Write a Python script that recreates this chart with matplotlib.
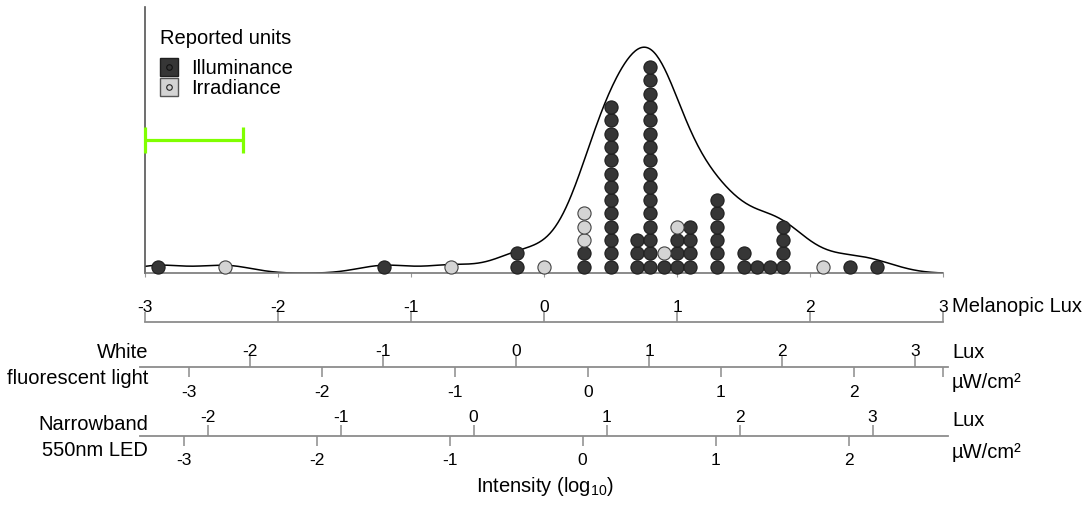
import numpy as np
import matplotlib
matplotlib.use("Agg")
import matplotlib.pyplot as plt
from matplotlib.lines import Line2D

plt.rcParams['font.family'] = ['Liberation Sans', 'DejaVu Sans']
plt.rcParams['mathtext.fontset'] = 'custom'
plt.rcParams['mathtext.rm'] = 'Liberation Sans'
plt.rcParams['axes.unicode_minus'] = False

### Dot plot data: log10 melanopic lux, stacked in 0.1 bins
bin_centres = [-2.9, -2.4, -1.2, -0.7, -0.2, 0.0, 0.3, 0.5, 0.7, 0.8, 0.9,
               1.0, 1.1, 1.3, 1.5, 1.6, 1.7, 1.8, 2.1, 2.3, 2.5]
illuminance_counts = [1, 0, 1, 0, 2, 0, 2, 13, 3, 16, 1, 3, 4, 6, 2, 1, 1, 4, 0, 1, 1]
irradiance_counts = [0, 1, 0, 1, 0, 1, 3, 0, 0, 0, 1, 1, 0, 0, 0, 0, 0, 0, 1, 0, 0]

### Density curve over all studies
kde_bandwidth = 0.2
kde_peak = 17.0

### Green range bar (melanopic units)
range_bar = [-3.0, -2.26]
range_bar_level = 10.0

### Conversion scales (scale value = melanopic value + offset)
melanopic_ticks = [-3, -2, -1, 0, 1, 2, 3]
white_lux_ticks = [-2, -1, 0, 1, 2, 3]
white_lux_offset = 0.21
white_uw_ticks = [-3, -2, -1, 0, 1, 2]
white_uw_offset = -0.33
led_lux_ticks = [-2, -1, 0, 1, 2, 3]
led_lux_offset = 0.53
led_uw_ticks = [-3, -2, -1, 0, 1, 2]
led_uw_offset = -0.29

### Layout (pixels)
W, H = 1084, 508
X0 = 544.0
PPU = 133.0
LINE_GREY = '#8c8c8c'
DARK = '#363636'
LIGHT = '#d4d4d4'
EDGE = '#1e1e1e'
BIG = 14.5
SMALL = 12.5


def fx(m):
    return (X0 + PPU * m) / W


def fy(py):
    return 1 - py / H


fig = plt.figure(figsize=(W / 100, H / 100), dpi=100)

### Top panel: dot plot + density
ax = fig.add_axes([fx(-3), fy(273.3), fx(3) - fx(-3), (273.3 - 7.3) / H])
ax.set_xlim(-3, 3)
ax.set_ylim(0, 20)
for side in ['top', 'right']:
    ax.spines[side].set_visible(False)
ax.spines['left'].set_color('#555555')
ax.spines['left'].set_linewidth(1.2)
ax.spines['bottom'].set_color('#777777')
ax.spines['bottom'].set_linewidth(1.2)
ax.set_yticks([])
ax.set_xticks(melanopic_ticks)
ax.tick_params(axis='x', direction='out', length=3, color='#999999', labelbottom=False)

xs_dark, ys_dark, xs_light, ys_light = [], [], [], []
for x, nd, nl in zip(bin_centres, illuminance_counts, irradiance_counts):
    for k in range(nd):
        xs_dark.append(x)
        ys_dark.append(0.5 + k)
    for k in range(nl):
        xs_light.append(x)
        ys_light.append(0.5 + nd + k)
ax.scatter(xs_dark, ys_dark, s=90, color=DARK, edgecolor=EDGE, linewidth=0.8, zorder=3, clip_on=False)
ax.scatter(xs_light, ys_light, s=90, color=LIGHT, edgecolor='#444444', linewidth=0.8, zorder=3, clip_on=False)

totals = np.array(illuminance_counts) + np.array(irradiance_counts)
points = np.repeat(np.array(bin_centres), totals)
grid = np.linspace(-3, 3, 600)
dens = np.exp(-0.5 * ((grid[:, None] - points[None, :]) / kde_bandwidth) ** 2).sum(axis=1)
dens = dens / dens.max() * kde_peak
ax.plot(grid, dens, color='black', lw=1.1, zorder=2)

centre = (range_bar[0] + range_bar[1]) / 2
half = (range_bar[1] - range_bar[0]) / 2
ax.errorbar(centre, range_bar_level, xerr=half, fmt='none', ecolor='#80ff00',
            elinewidth=2.3, capsize=9.4, capthick=2.3, clip_on=False, zorder=4)

### Legend
handles = [
    (Line2D([], [], marker='s', ms=12.5, mfc=DARK, mec=EDGE, ls=''),
     Line2D([], [], marker='o', ms=4, mfc=DARK, mec='#111111', mew=0.8, ls='')),
    (Line2D([], [], marker='s', ms=12.5, mfc=LIGHT, mec='#555555', ls=''),
     Line2D([], [], marker='o', ms=4, mfc=LIGHT, mec='#222222', mew=0.8, ls='')),
]
fig.text(160 / W, fy(39), 'Reported units', fontsize=BIG, va='center', ha='left')
leg = fig.legend(handles, ['Illuminance', 'Irradiance'],
                 loc='upper left', bbox_to_anchor=(159 / W, fy(59)),
                 frameon=False, fontsize=BIG,
                 handlelength=1.0, handletextpad=0.6, labelspacing=0.05, borderpad=0,
                 borderaxespad=0)


### Lower conversion scales
def scale_axis(y_px, m_lo, m_hi):
    a = fig.add_axes([fx(m_lo), fy(y_px), fx(m_hi) - fx(m_lo), 1e-4])
    a.set_xlim(m_lo, m_hi)
    a.set_yticks([])
    a.set_xticks([])
    a.patch.set_visible(False)
    for s in a.spines.values():
        s.set_visible(False)
    a.spines['bottom'].set_visible(True)
    a.spines['bottom'].set_color(LINE_GREY)
    a.spines['bottom'].set_linewidth(1.3)
    return a


def style_ticks(axis_obj, length, pad):
    axis_obj.tick_params(direction='out', length=length, width=1.1, color=LINE_GREY,
                         labelcolor='black', labelsize=SMALL, pad=pad)


# melanopic lux
mel = scale_axis(322.3, -3, 3)
mel.xaxis.set_ticks_position('top')
mel.set_xticks(melanopic_ticks)
style_ticks(mel, 7, -1.5)
mel.tick_params(labeltop=True, labelbottom=False)

# white fluorescent light
wfl = scale_axis(366.7, -3.04, 3.035)
wfl_top = wfl.secondary_xaxis('top', functions=(lambda m: m + white_lux_offset,
                                                  lambda v: v - white_lux_offset))
wfl_top.set_xticks(white_lux_ticks)
wfl_top.spines['top'].set_visible(False)
style_ticks(wfl_top, 8, -2.5)
wfl_end = 3 + white_uw_offset
wfl_bot = wfl.secondary_xaxis('bottom', functions=(lambda m: m + white_uw_offset,
                                                     lambda v: v - white_uw_offset))
wfl_bot.set_xticks(white_uw_ticks + [wfl_end], [str(t) for t in white_uw_ticks] + [''])
wfl_bot.spines['bottom'].set_visible(False)
style_ticks(wfl_bot, 7, 6.5)

# narrowband LED
led = scale_axis(435.7, -3.04, 3.035)
led_top = led.secondary_xaxis('top', functions=(lambda m: m + led_lux_offset,
                                                  lambda v: v - led_lux_offset))
led_top.set_xticks(led_lux_ticks)
led_top.spines['top'].set_visible(False)
style_ticks(led_top, 8, -0.5)
led_bot = led.secondary_xaxis('bottom', functions=(lambda m: m + led_uw_offset,
                                                     lambda v: v - led_uw_offset))
led_bot.set_xticks(led_uw_ticks)
led_bot.spines['bottom'].set_visible(False)
style_ticks(led_bot, 7, 5.5)

### Texts
fig.text(952 / W, fy(306), 'Melanopic Lux', fontsize=BIG, va='center', ha='left')
fig.text(952 / W, fy(352), 'Lux', fontsize=BIG, va='center', ha='left')
fig.text(952 / W, fy(383), 'µW/cm²', fontsize=BIG, va='center', ha='left')
fig.text(952 / W, fy(420), 'Lux', fontsize=BIG, va='center', ha='left')
fig.text(952 / W, fy(453), 'µW/cm²', fontsize=BIG, va='center', ha='left')
fig.text(148 / W, fy(353), 'White', fontsize=BIG, va='center', ha='right')
fig.text(148 / W, fy(378), 'fluorescent light', fontsize=BIG, va='center', ha='right')
fig.text(148 / W, fy(425), 'Narrowband', fontsize=BIG, va='center', ha='right')
fig.text(148 / W, fy(450), '550nm LED', fontsize=BIG, va='center', ha='right')
fig.text(545 / W, fy(487), r'Intensity (log$_{\mathrm{10}}$)', fontsize=BIG, va='center', ha='center')

fig.savefig('out.png', dpi=100)
